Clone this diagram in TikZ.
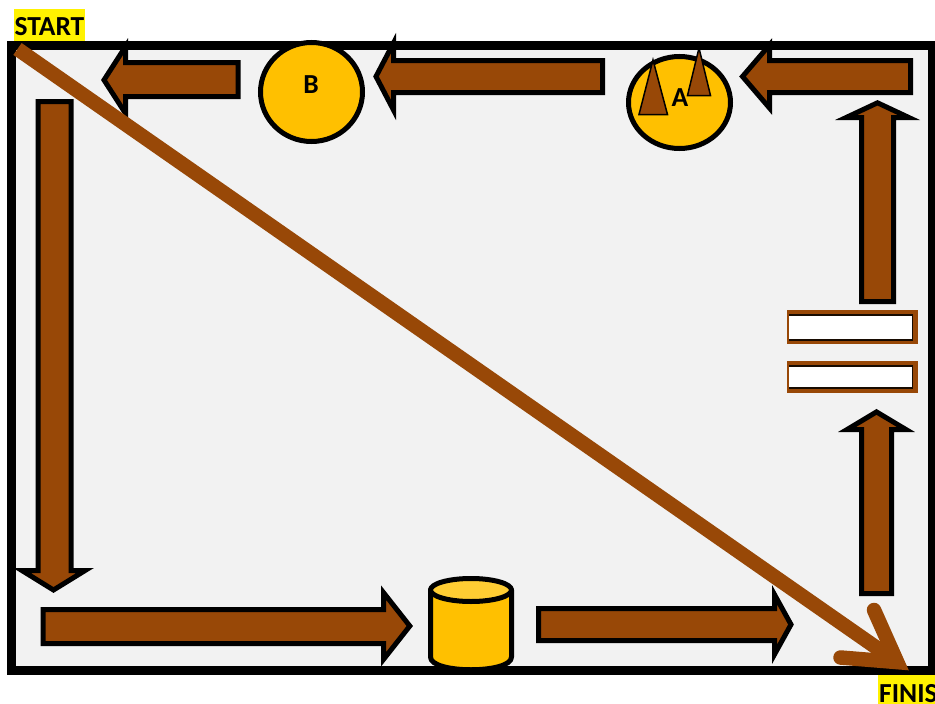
\documentclass[tikz,border=0pt]{standalone}
\usepackage{fontspec}
\usetikzlibrary{shapes.geometric}
\setmainfont{Carlito}
\definecolor{brownfill}{HTML}{984807}
\definecolor{goldfill}{HTML}{FFC000}
\definecolor{goldtop}{HTML}{FFCD33}
\definecolor{panel}{HTML}{F2F2F2}
\tikzset{
  frame/.style={draw=black,line width=9pt,fill=panel,miter limit=10},
  blockarrow/.style={draw=black,line width=5pt,fill=brownfill,line join=miter,miter limit=10},
  disc/.style={draw=black,line width=5pt,fill=goldfill,ellipse,inner sep=0pt},
  cylpart/.style={draw=black,line width=5pt,line join=round},
  cone/.style={draw=black,line width=1.5pt,fill=brownfill,line join=miter},
  tagtext/.style={inner sep=0pt,font=\bfseries\fontsize{27.5}{27.5}\selectfont,text=black},
  flow/.style={draw=brownfill,line width=14.5pt,line join=miter},
  barframe/.style={fill=brownfill},
  barwhite/.style={fill=white},
  barline/.style={draw=black!85!brownfill,line width=1.8pt},
}
\begin{document}
\begin{tikzpicture}[x=1pt,y=-1pt]
\useasboundingbox (0,0) rectangle (935,704);
\fill[white] (0,0) rectangle (935,704);
% frame
\draw[frame] (11.5,45.5) rectangle (932.5,670.5);
% labels
\fill[yellow] (14,9) rectangle (85,41);
\node[tagtext,anchor=base] (start) at (49.5,35.5) {START};
\fill[yellow] (878,674.5) rectangle (935,704);
\node[tagtext,anchor=base west] (finish) at (879,702) {FINISH};
% arrows
\draw[blockarrow] (910.5,60.5) -- (769.5,60.5) -- (769.5,45) -- (742.5,76.5) -- (769.5,108) -- (769.5,92.5) -- (910.5,92.5) -- cycle;
\draw[blockarrow] (602.5,60.5) -- (393.5,60.5) -- (393.5,43) -- (376,76.5) -- (393.5,110) -- (393.5,92.5) -- (602.5,92.5) -- cycle;
\draw[blockarrow] (238,62.5) -- (125.5,62.5) -- (125.5,46.6) -- (104,80) -- (125.5,113.4) -- (125.5,96.5) -- (238,96.5) -- cycle;
\draw[blockarrow] (38,101.5) -- (38,570.5) -- (21.9,570.5) -- (53.5,590) -- (85.1,570.5) -- (71,570.5) -- (71,101.5) -- cycle;
\draw[blockarrow] (43,609.5) -- (383.5,609.5) -- (383.5,592.6) -- (409.8,626) -- (383.5,659.4) -- (383.5,643.5) -- (43,643.5) -- cycle;
\draw[blockarrow] (538.5,608.5) -- (774.5,608.5) -- (774.5,594.6) -- (791,624.5) -- (774.5,654.4) -- (774.5,640.5) -- (538.5,640.5) -- cycle;
\draw[blockarrow] (861.5,593.5) -- (861.5,429.5) -- (847.1,429.5) -- (876.5,411.9) -- (905.9,429.5) -- (891.5,429.5) -- (891.5,593.5) -- cycle;
\draw[blockarrow] (861.5,301.5) -- (861.5,117.5) -- (846.2,117.5) -- (877.5,102.8) -- (908.8,117.5) -- (893.5,117.5) -- (893.5,301.5) -- cycle;
% bars
\fill[barframe] (787,310) rectangle (918,344);
\fill[barwhite] (789,315) rectangle (912.5,340);
\draw[barline] (789,315) -- (912.5,315) -- (912.5,340) -- (789,340);
\fill[barframe] (787,361) rectangle (918,393);
\fill[barwhite] (789,366) rectangle (912.5,388);
\draw[barline] (789,366) -- (912.5,366) -- (912.5,388) -- (789,388);
% circles
\node[disc,minimum width=102pt,minimum height=92pt] (discA) at (679.5,102.5) {};
\node[disc,minimum width=102pt,minimum height=99pt] (discB) at (311.5,92) {};
\node[tagtext] (labelB) at (311,85) {B};
\draw[cone] (653,60) -- (667.5,114.5) -- (639,114.5) -- cycle;
\draw[cone] (699,48) -- (710.5,95.5) -- (687.5,95.5) -- cycle;
\node[tagtext] (labelA) at (680,98) {A};
% cylinder
\draw[cylpart,fill=goldfill] (430.5,590) -- (430.5,657) .. controls (430.5,674) and (511.5,674) .. (511.5,657) -- (511.5,590) -- cycle;
\draw[cylpart,fill=goldtop] (471,590) ellipse[x radius=40.5,y radius=11.5];
% diagonal
\coordinate (from) at (17.5,49);
\coordinate (tip) at (897.2,662.1);
\coordinate (barbA) at (874,610);
\coordinate (barbB) at (840.5,657.5);
\draw[flow] (from) -- (tip);
\draw[flow,line cap=round] (barbA) -- (tip) -- (barbB);
\end{tikzpicture}
\end{document}
